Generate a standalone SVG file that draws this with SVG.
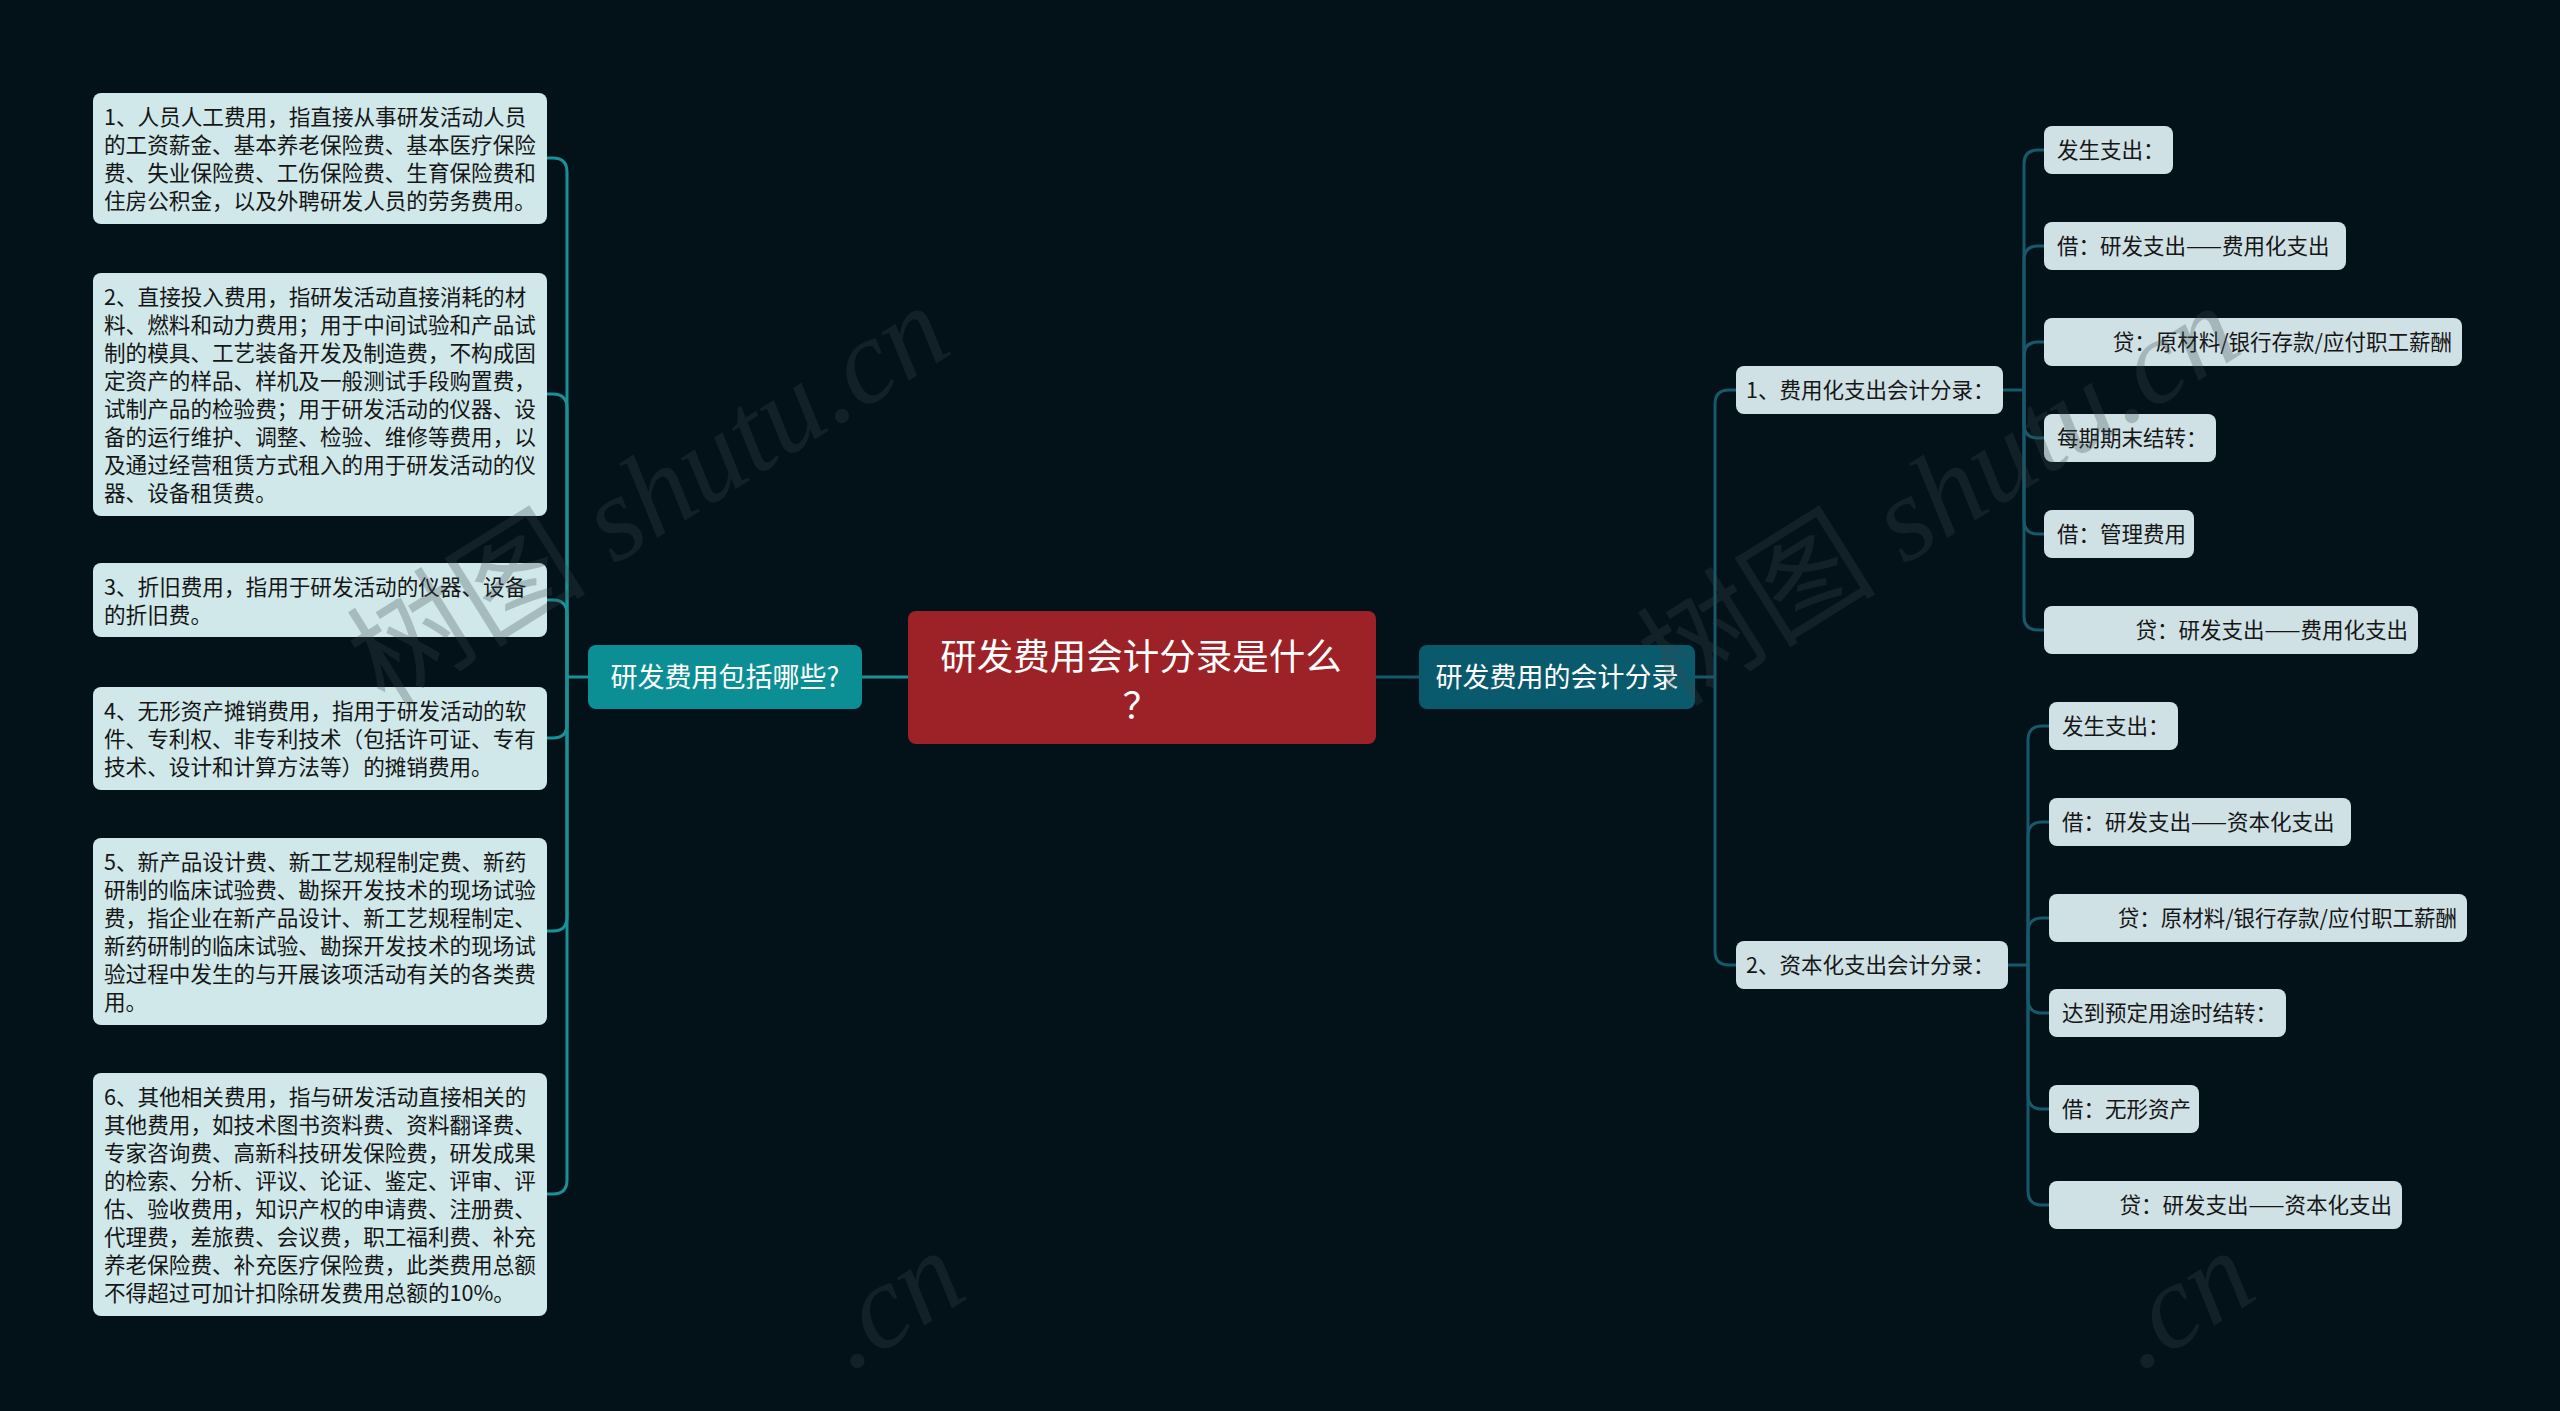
<svg xmlns="http://www.w3.org/2000/svg" width="2560" height="1411" viewBox="0 0 2560 1411">
<style>
.bg{fill:#031119}
.lleaf{fill:#d0e8ea}
.rleaf{fill:#cfe1e5}
.lt{font-family:"Noto Sans CJK SC","Noto Sans",sans-serif;font-size:21.6px;fill:#161616}
.rt{font-family:"Noto Sans CJK SC","Noto Sans",sans-serif;font-size:21.5px;fill:#161616}
.mt{font-family:"Noto Sans CJK SC","Noto Sans",sans-serif;font-size:27px;fill:#ffffff;text-anchor:middle}
.ct{font-family:"Noto Sans CJK SC","Noto Sans",sans-serif;font-size:36.5px;fill:#ffffff;text-anchor:middle}
.lc{fill:none;stroke:#1a9195;stroke-width:3}
.rc{fill:none;stroke:#17596b;stroke-width:3}
.wm{font-family:"Liberation Serif","Noto Sans CJK SC",serif;font-size:120px;fill:#3a4a50;opacity:0.28}
.end{text-anchor:end}
</style>
<rect class="bg" x="0" y="0" width="2560" height="1411"/>

<g id="connectors">
  <path class="lc" d="M908 677 H862"/>
  <path class="rc" d="M1376 677 H1419"/>
  <path class="lc" d="M588 677 H567"/>
  <path class="lc" d="M567 677 V172 Q567 158 553 158 H547"/>
  <path class="lc" d="M567 677 V408 Q567 394 553 394 H547"/>
  <path class="lc" d="M567 677 V614 Q567 600 553 600 H547"/>
  <path class="lc" d="M567 677 V724 Q567 738 553 738 H547"/>
  <path class="lc" d="M567 677 V917 Q567 931 553 931 H547"/>
  <path class="lc" d="M567 677 V1180 Q567 1194 553 1194 H547"/>
  <path class="rc" d="M1695 677 H1715"/>
  <path class="rc" d="M1715 677 V404 Q1715 390 1729 390 H1736"/>
  <path class="rc" d="M1715 677 V951 Q1715 965 1729 965 H1736"/>
  <path class="rc" d="M2003 390 H2024"/>
  <path class="rc" d="M2024 390 V164 Q2024 150 2038 150 H2044"/>
  <path class="rc" d="M2024 390 V260 Q2024 246 2038 246 H2044"/>
  <path class="rc" d="M2024 390 V356 Q2024 342 2038 342 H2044"/>
  <path class="rc" d="M2024 390 V424 Q2024 438 2038 438 H2044"/>
  <path class="rc" d="M2024 390 V520 Q2024 534 2038 534 H2044"/>
  <path class="rc" d="M2024 390 V616 Q2024 630 2038 630 H2044"/>
  <path class="rc" d="M2008 965 H2028"/>
  <path class="rc" d="M2028 965 V740 Q2028 726 2042 726 H2049"/>
  <path class="rc" d="M2028 965 V836 Q2028 822 2042 822 H2049"/>
  <path class="rc" d="M2028 965 V932 Q2028 918 2042 918 H2049"/>
  <path class="rc" d="M2028 965 V999 Q2028 1013 2042 1013 H2049"/>
  <path class="rc" d="M2028 965 V1095 Q2028 1109 2042 1109 H2049"/>
  <path class="rc" d="M2028 965 V1191 Q2028 1205 2042 1205 H2049"/>
</g>

<g id="center">
  <rect x="908" y="611" width="468" height="133" rx="8" fill="#9c2227"/>
  <text class="ct" x="1141" y="670">研发费用会计分录是什么</text>
  <text class="ct" x="1141" y="719">？</text>
</g>

<g id="left-main">
  <rect x="588" y="645" width="274" height="64" rx="8" fill="#0b8f94"/>
  <text class="mt" x="725" y="687">研发费用包括哪些?</text>
</g>

<g id="right-main">
  <rect x="1419" y="645" width="276" height="64" rx="8" fill="#0a5a6e"/>
  <text class="mt" x="1557" y="687">研发费用的会计分录</text>
</g>

<g id="l1">
  <rect class="lleaf" x="93" y="93" width="454" height="131" rx="8"/>
  <text class="lt" x="104" y="125">1、人员人工费用，指直接从事研发活动人员</text>
  <text class="lt" x="104" y="153">的工资薪金、基本养老保险费、基本医疗保险</text>
  <text class="lt" x="104" y="181">费、失业保险费、工伤保险费、生育保险费和</text>
  <text class="lt" x="104" y="209">住房公积金，以及外聘研发人员的劳务费用。</text>
</g>
<g id="l2">
  <rect class="lleaf" x="93" y="273" width="454" height="243" rx="8"/>
  <text class="lt" x="104" y="305">2、直接投入费用，指研发活动直接消耗的材</text>
  <text class="lt" x="104" y="333">料、燃料和动力费用；用于中间试验和产品试</text>
  <text class="lt" x="104" y="361">制的模具、工艺装备开发及制造费，不构成固</text>
  <text class="lt" x="104" y="389">定资产的样品、样机及一般测试手段购置费，</text>
  <text class="lt" x="104" y="417">试制产品的检验费；用于研发活动的仪器、设</text>
  <text class="lt" x="104" y="445">备的运行维护、调整、检验、维修等费用，以</text>
  <text class="lt" x="104" y="473">及通过经营租赁方式租入的用于研发活动的仪</text>
  <text class="lt" x="104" y="501">器、设备租赁费。</text>
</g>
<g id="l3">
  <rect class="lleaf" x="93" y="563" width="454" height="74" rx="8"/>
  <text class="lt" x="104" y="595">3、折旧费用，指用于研发活动的仪器、设备</text>
  <text class="lt" x="104" y="623">的折旧费。</text>
</g>
<g id="l4">
  <rect class="lleaf" x="93" y="687" width="454" height="103" rx="8"/>
  <text class="lt" x="104" y="719">4、无形资产摊销费用，指用于研发活动的软</text>
  <text class="lt" x="104" y="747">件、专利权、非专利技术（包括许可证、专有</text>
  <text class="lt" x="104" y="775">技术、设计和计算方法等）的摊销费用。</text>
</g>
<g id="l5">
  <rect class="lleaf" x="93" y="838" width="454" height="187" rx="8"/>
  <text class="lt" x="104" y="870">5、新产品设计费、新工艺规程制定费、新药</text>
  <text class="lt" x="104" y="898">研制的临床试验费、勘探开发技术的现场试验</text>
  <text class="lt" x="104" y="926">费，指企业在新产品设计、新工艺规程制定、</text>
  <text class="lt" x="104" y="954">新药研制的临床试验、勘探开发技术的现场试</text>
  <text class="lt" x="104" y="982">验过程中发生的与开展该项活动有关的各类费</text>
  <text class="lt" x="104" y="1010">用。</text>
</g>
<g id="l6">
  <rect class="lleaf" x="93" y="1073" width="454" height="243" rx="8"/>
  <text class="lt" x="104" y="1105">6、其他相关费用，指与研发活动直接相关的</text>
  <text class="lt" x="104" y="1133">其他费用，如技术图书资料费、资料翻译费、</text>
  <text class="lt" x="104" y="1161">专家咨询费、高新科技研发保险费，研发成果</text>
  <text class="lt" x="104" y="1189">的检索、分析、评议、论证、鉴定、评审、评</text>
  <text class="lt" x="104" y="1217">估、验收费用，知识产权的申请费、注册费、</text>
  <text class="lt" x="104" y="1245">代理费，差旅费、会议费，职工福利费、补充</text>
  <text class="lt" x="104" y="1273">养老保险费、补充医疗保险费，此类费用总额</text>
  <text class="lt" x="104" y="1301">不得超过可加计扣除研发费用总额的10%。</text>
</g>

<g id="s1">
  <rect class="rleaf" x="1736" y="366" width="267" height="48" rx="8"/>
  <text class="rt" x="1746" y="398">1、费用化支出会计分录：</text>
</g>
<g id="s2">
  <rect class="rleaf" x="1736" y="941" width="272" height="48" rx="8"/>
  <text class="rt" x="1746" y="973">2、资本化支出会计分录：</text>
</g>

<g id="r1a">
  <rect class="rleaf" x="2044" y="126" width="129" height="48" rx="8"/>
  <text class="rt" x="2057" y="158">发生支出：</text>
</g>
<g id="r1b">
  <rect class="rleaf" x="2044" y="222" width="302" height="48" rx="8"/>
  <text class="rt" x="2057" y="254">借：研发支出——费用化支出</text>
</g>
<g id="r1c">
  <rect class="rleaf" x="2044" y="318" width="418" height="48" rx="8"/>
  <text class="rt end" x="2452" y="350">贷：原材料/银行存款/应付职工薪酬</text>
</g>
<g id="r1d">
  <rect class="rleaf" x="2044" y="414" width="172" height="48" rx="8"/>
  <text class="rt" x="2057" y="446">每期期末结转：</text>
</g>
<g id="r1e">
  <rect class="rleaf" x="2044" y="510" width="150" height="48" rx="8"/>
  <text class="rt" x="2057" y="542">借：管理费用</text>
</g>
<g id="r1f">
  <rect class="rleaf" x="2044" y="606" width="374" height="48" rx="8"/>
  <text class="rt end" x="2408" y="638">贷：研发支出——费用化支出</text>
</g>

<g id="r2a">
  <rect class="rleaf" x="2049" y="702" width="129" height="48" rx="8"/>
  <text class="rt" x="2062" y="734">发生支出：</text>
</g>
<g id="r2b">
  <rect class="rleaf" x="2049" y="798" width="302" height="48" rx="8"/>
  <text class="rt" x="2062" y="830">借：研发支出——资本化支出</text>
</g>
<g id="r2c">
  <rect class="rleaf" x="2049" y="894" width="418" height="48" rx="8"/>
  <text class="rt end" x="2457" y="926">贷：原材料/银行存款/应付职工薪酬</text>
</g>
<g id="r2d">
  <rect class="rleaf" x="2049" y="989" width="237" height="48" rx="8"/>
  <text class="rt" x="2062" y="1021">达到预定用途时结转：</text>
</g>
<g id="r2e">
  <rect class="rleaf" x="2049" y="1085" width="150" height="48" rx="8"/>
  <text class="rt" x="2062" y="1117">借：无形资产</text>
</g>
<g id="r2f">
  <rect class="rleaf" x="2049" y="1181" width="353" height="48" rx="8"/>
  <text class="rt end" x="2392" y="1213">贷：研发支出——资本化支出</text>
</g>

<g id="watermarks">
  <text class="wm" transform="translate(385 708) rotate(-32)">树图 <tspan font-style="italic">shutu.cn</tspan></text>
  <text class="wm" transform="translate(1675 708) rotate(-32)">树图 <tspan font-style="italic">shutu.cn</tspan></text>
  <text class="wm" transform="translate(850 1372) rotate(-32)"><tspan font-style="italic">.cn</tspan></text>
  <text class="wm" transform="translate(2140 1372) rotate(-32)"><tspan font-style="italic">.cn</tspan></text>
</g>
</svg>
